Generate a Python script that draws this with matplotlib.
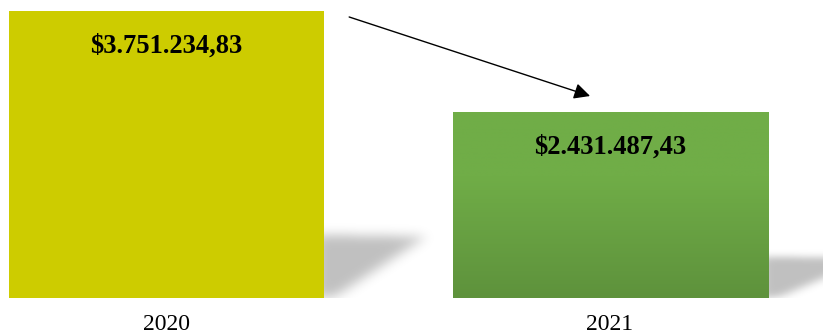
import matplotlib
matplotlib.use('Agg')
import matplotlib.pyplot as plt
from matplotlib.path import Path
import numpy as np

years = ['2020', '2021']
totals = [3751234.83, 2431487.43]
labels = ['$3.751.234,83', '$2.431.487,43']

plt.rcParams['font.family'] = ['Liberation Serif', 'DejaVu Serif']

fig = plt.figure(figsize=(8.23, 3.34), dpi=100)
fig.patch.set_facecolor('white')
ax = fig.add_axes([0, 36 / 334, 1, 298 / 334])

ymax = totals[0] * 298 / 287
bar_w = 0.71
x = np.arange(len(years))


def blur(img, sigma):
    r = int(3 * sigma)
    k = np.exp(-0.5 * (np.arange(-r, r + 1) / sigma) ** 2)
    k /= k.sum()
    img = np.apply_along_axis(lambda v: np.convolve(v, k, mode='same'), 0, img)
    img = np.apply_along_axis(lambda v: np.convolve(v, k, mode='same'), 1, img)
    return img


def draw_shadow(ax, right, height):
    # soft perspective shadow falling to the right of a bar
    w = 0.34
    top = 0.34 * height
    nx, ny = 200, 140
    xs = np.linspace(right - 0.02, right + w, nx)
    ys = np.linspace(0, top, ny)
    X, Y = np.meshgrid(xs, ys)
    sh = 0.22 * height
    poly = Path([(right - 0.02, 0), (right - 0.02, sh), (right + 0.23, sh * 0.97),
                 (right + 0.03, 0.01 * height), (right + 0.01, 0)])
    mask = poly.contains_points(np.c_[X.ravel(), Y.ravel()]).reshape(ny, nx).astype(float)
    mask = blur(mask, 8)
    rgba = np.zeros((ny, nx, 4))
    rgba[..., 3] = mask * 0.25
    ax.imshow(rgba, extent=(xs[0], xs[-1], 0, top), origin='lower',
              aspect='auto', zorder=1, interpolation='bilinear')


for xi, h in zip(x, totals):
    draw_shadow(ax, xi + bar_w / 2, h)

bars = ax.bar(x, totals, width=bar_w, color=['#CDCC00', '#6AA644'], zorder=2)

# vertical green gradient on the 2021 bar
top_c = np.array([112, 173, 71]) / 255
bot_c = np.array([94, 146, 60]) / 255
t = np.linspace(0, 1, 256)
t = np.clip((t - 0.35) / 0.65, 0, 1)[:, None]
grad = (top_c * (1 - t) + bot_c * t)[:, None, :]
b2 = bars[1]
im = ax.imshow(grad, extent=(b2.get_x(), b2.get_x() + b2.get_width(), 0, b2.get_height()),
               origin='upper', aspect='auto', zorder=3)
im.set_clip_path(b2)
ax.set_xlim(-0.375, 1.48)
ax.set_ylim(0, ymax)

for xi, h, lab in zip(x, totals, labels):
    ax.annotate(lab, (xi, h), xytext=(0, -16), textcoords='offset points',
                ha='center', va='top', fontsize=19.1, fontweight='bold',
                color='black', zorder=5)

# arrow from 2020 down towards 2021
ax.annotate('', xy=(0.955, 2.64e6), xytext=(0.412, 3.673e6),
            arrowprops=dict(arrowstyle='-|>', color='black', lw=1.0,
                            mutation_scale=24, shrinkA=0, shrinkB=0), zorder=6)

ax.set_xticks(x)
ax.set_xticklabels(years, fontsize=17)
ax.tick_params(axis='x', length=0, pad=11.5)
ax.set_yticks([])
for s in ax.spines.values():
    s.set_visible(False)

fig.savefig('out.png', dpi=100, facecolor='white')
